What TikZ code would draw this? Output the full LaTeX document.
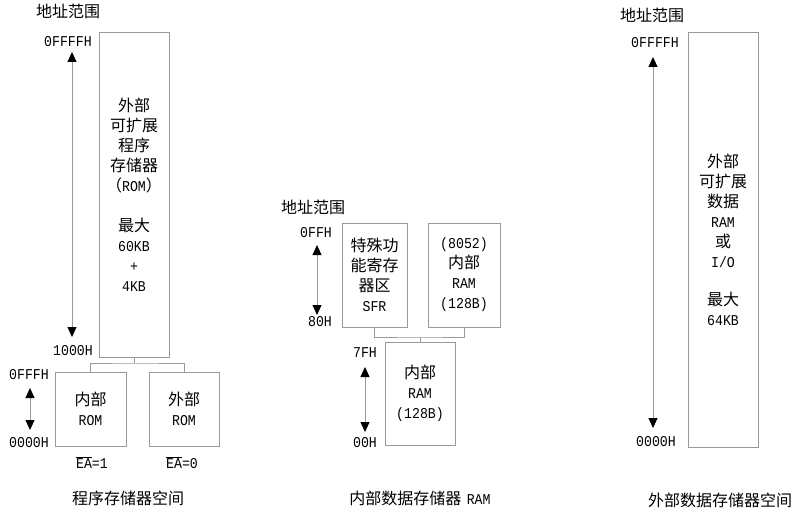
\documentclass[tikz,border=0pt]{standalone}
\usepackage{fontspec}
\setmainfont{Liberation Mono}[FakeStretch=0.88]
\newfontfamily\cjk{Noto Sans CJK SC}
\usetikzlibrary{arrows.meta}
\newcommand{\zh}[1]{{\cjk\fontsize{16}{20}\selectfont #1}}
\colorlet{linegray}{black!40}
\tikzset{
  membox/.style={draw=linegray, line width=0.8pt, inner sep=0pt, align=center, font=\fontsize{15}{20}\selectfont},
  addr/.style={inner sep=0pt, font=\fontsize{15}{16}\selectfont},
  title/.style={inner sep=0pt, font=\cjk\fontsize{16}{20}\selectfont},
  spanarrow/.style={draw=linegray, line width=0.8pt, {Triangle[color=black,length=10pt,width=9pt]}-{Triangle[color=black,length=10pt,width=9pt]}},
  link/.style={draw=linegray, line width=0.8pt},
}

\begin{document}
\begin{tikzpicture}[x=1pt,y=-1pt]
	\path[fill=white,use as bounding box] (0,0) rectangle (800,513);

    % program memory
    \node[title] (ptitle) at (68,11) {地址范围};
    \node[addr] (pffff) at (68,42) {0FFFFH};
    \node[addr] (p1000) at (73,351) {1000H};
    \node[addr] (p0fff) at (29,375) {0FFFH};
    \node[addr] (p0000) at (29,443) {0000H};
    \node[membox, minimum width=70pt, minimum height=325pt] (extprog) at (134,194.5)
      {\zh{外部}\\\zh{可扩展}\\\zh{程序}\\\zh{存储器}\\\zh{（}ROM\zh{）}\\[20pt]\zh{最大}\\60KB\\+\\4KB};
    \node[membox, minimum width=71pt, minimum height=74pt] (introm) at (90.5,409) {\zh{内部}\\ROM};
    \node[membox, minimum width=70pt, minimum height=74pt] (outrom) at (184,409) {\zh{外部}\\ROM};
    \node[addr] (ea1) at (92,463) {\(\overline{\mbox{EA}}\)=1};
    \node[addr] (ea0) at (182,463) {\(\overline{\mbox{EA}}\)=0};
    \node[title] (pcap) at (128,498) {程序存储器空间};
    \coordinate (pfork) at (134,363);
    \draw[link] (extprog.south) -- (pfork);
    \draw[link] (introm.north) |- (pfork) -| (outrom.north);
    \coordinate (ptop) at (72,52);
    \coordinate (pbot) at (72,337);
    \draw[spanarrow] (ptop) -- (pbot);
    \coordinate (itop) at (30,388);
    \coordinate (ibot) at (30,430);
    \draw[spanarrow] (itop) -- (ibot);

    % internal data memory
    \node[title] (dtitle) at (313,207) {地址范围};
    \node[addr] (d0ff) at (316,233) {0FFH};
    \node[addr] (d80) at (320,322) {80H};
    \node[addr] (d7f) at (365,353) {7FH};
    \node[addr] (d00) at (365,443) {00H};
    \node[membox, minimum width=65pt, minimum height=104pt] (sfr) at (374.5,275)
      {\zh{特殊功}\\\zh{能寄存}\\\zh{器区}\\SFR};
    \node[membox, minimum width=72pt, minimum height=104pt] (ramhigh) at (464,275)
      {(8052)\\\zh{内部}\\RAM\\(128B)};
    \node[membox, minimum width=70pt, minimum height=103pt] (ramlow) at (420,393.5)
      {\zh{内部}\\RAM\\(128B)};
    \node[inner sep=0pt] (dcap) at (420,498) {\zh{内部数据存储器} \fontsize{15}{16}\selectfont RAM};
    \coordinate (dfork) at (420,337);
    \draw[link] (sfr.south) |- (dfork) -| (ramhigh.south);
    \draw[link] (dfork) -- (ramlow.north);
    \coordinate (stop) at (317,245);
    \coordinate (sbot) at (317,315);
    \draw[spanarrow] (stop) -- (sbot);
    \coordinate (ltop) at (365,367);
    \coordinate (lbot) at (365,432);
    \draw[spanarrow] (ltop) -- (lbot);

    % external data memory
    \node[title] (xtitle) at (652,15) {地址范围};
    \node[addr] (xffff) at (655,43) {0FFFFH};
    \node[addr] (x0000) at (656,442) {0000H};
    \node[membox, minimum width=70pt, minimum height=415pt] (extdata) at (723,239.5)
      {\zh{外部}\\\zh{可扩展}\\\zh{数据}\\RAM\\\zh{或}\\I/O\\[18pt]\zh{最大}\\64KB};
    \node[title] (xcap) at (720,500) {外部数据存储器空间};
    \coordinate (xtop) at (653,57);
    \coordinate (xbot) at (653,428);
    \draw[spanarrow] (xtop) -- (xbot);
\end{tikzpicture}
\end{document}
